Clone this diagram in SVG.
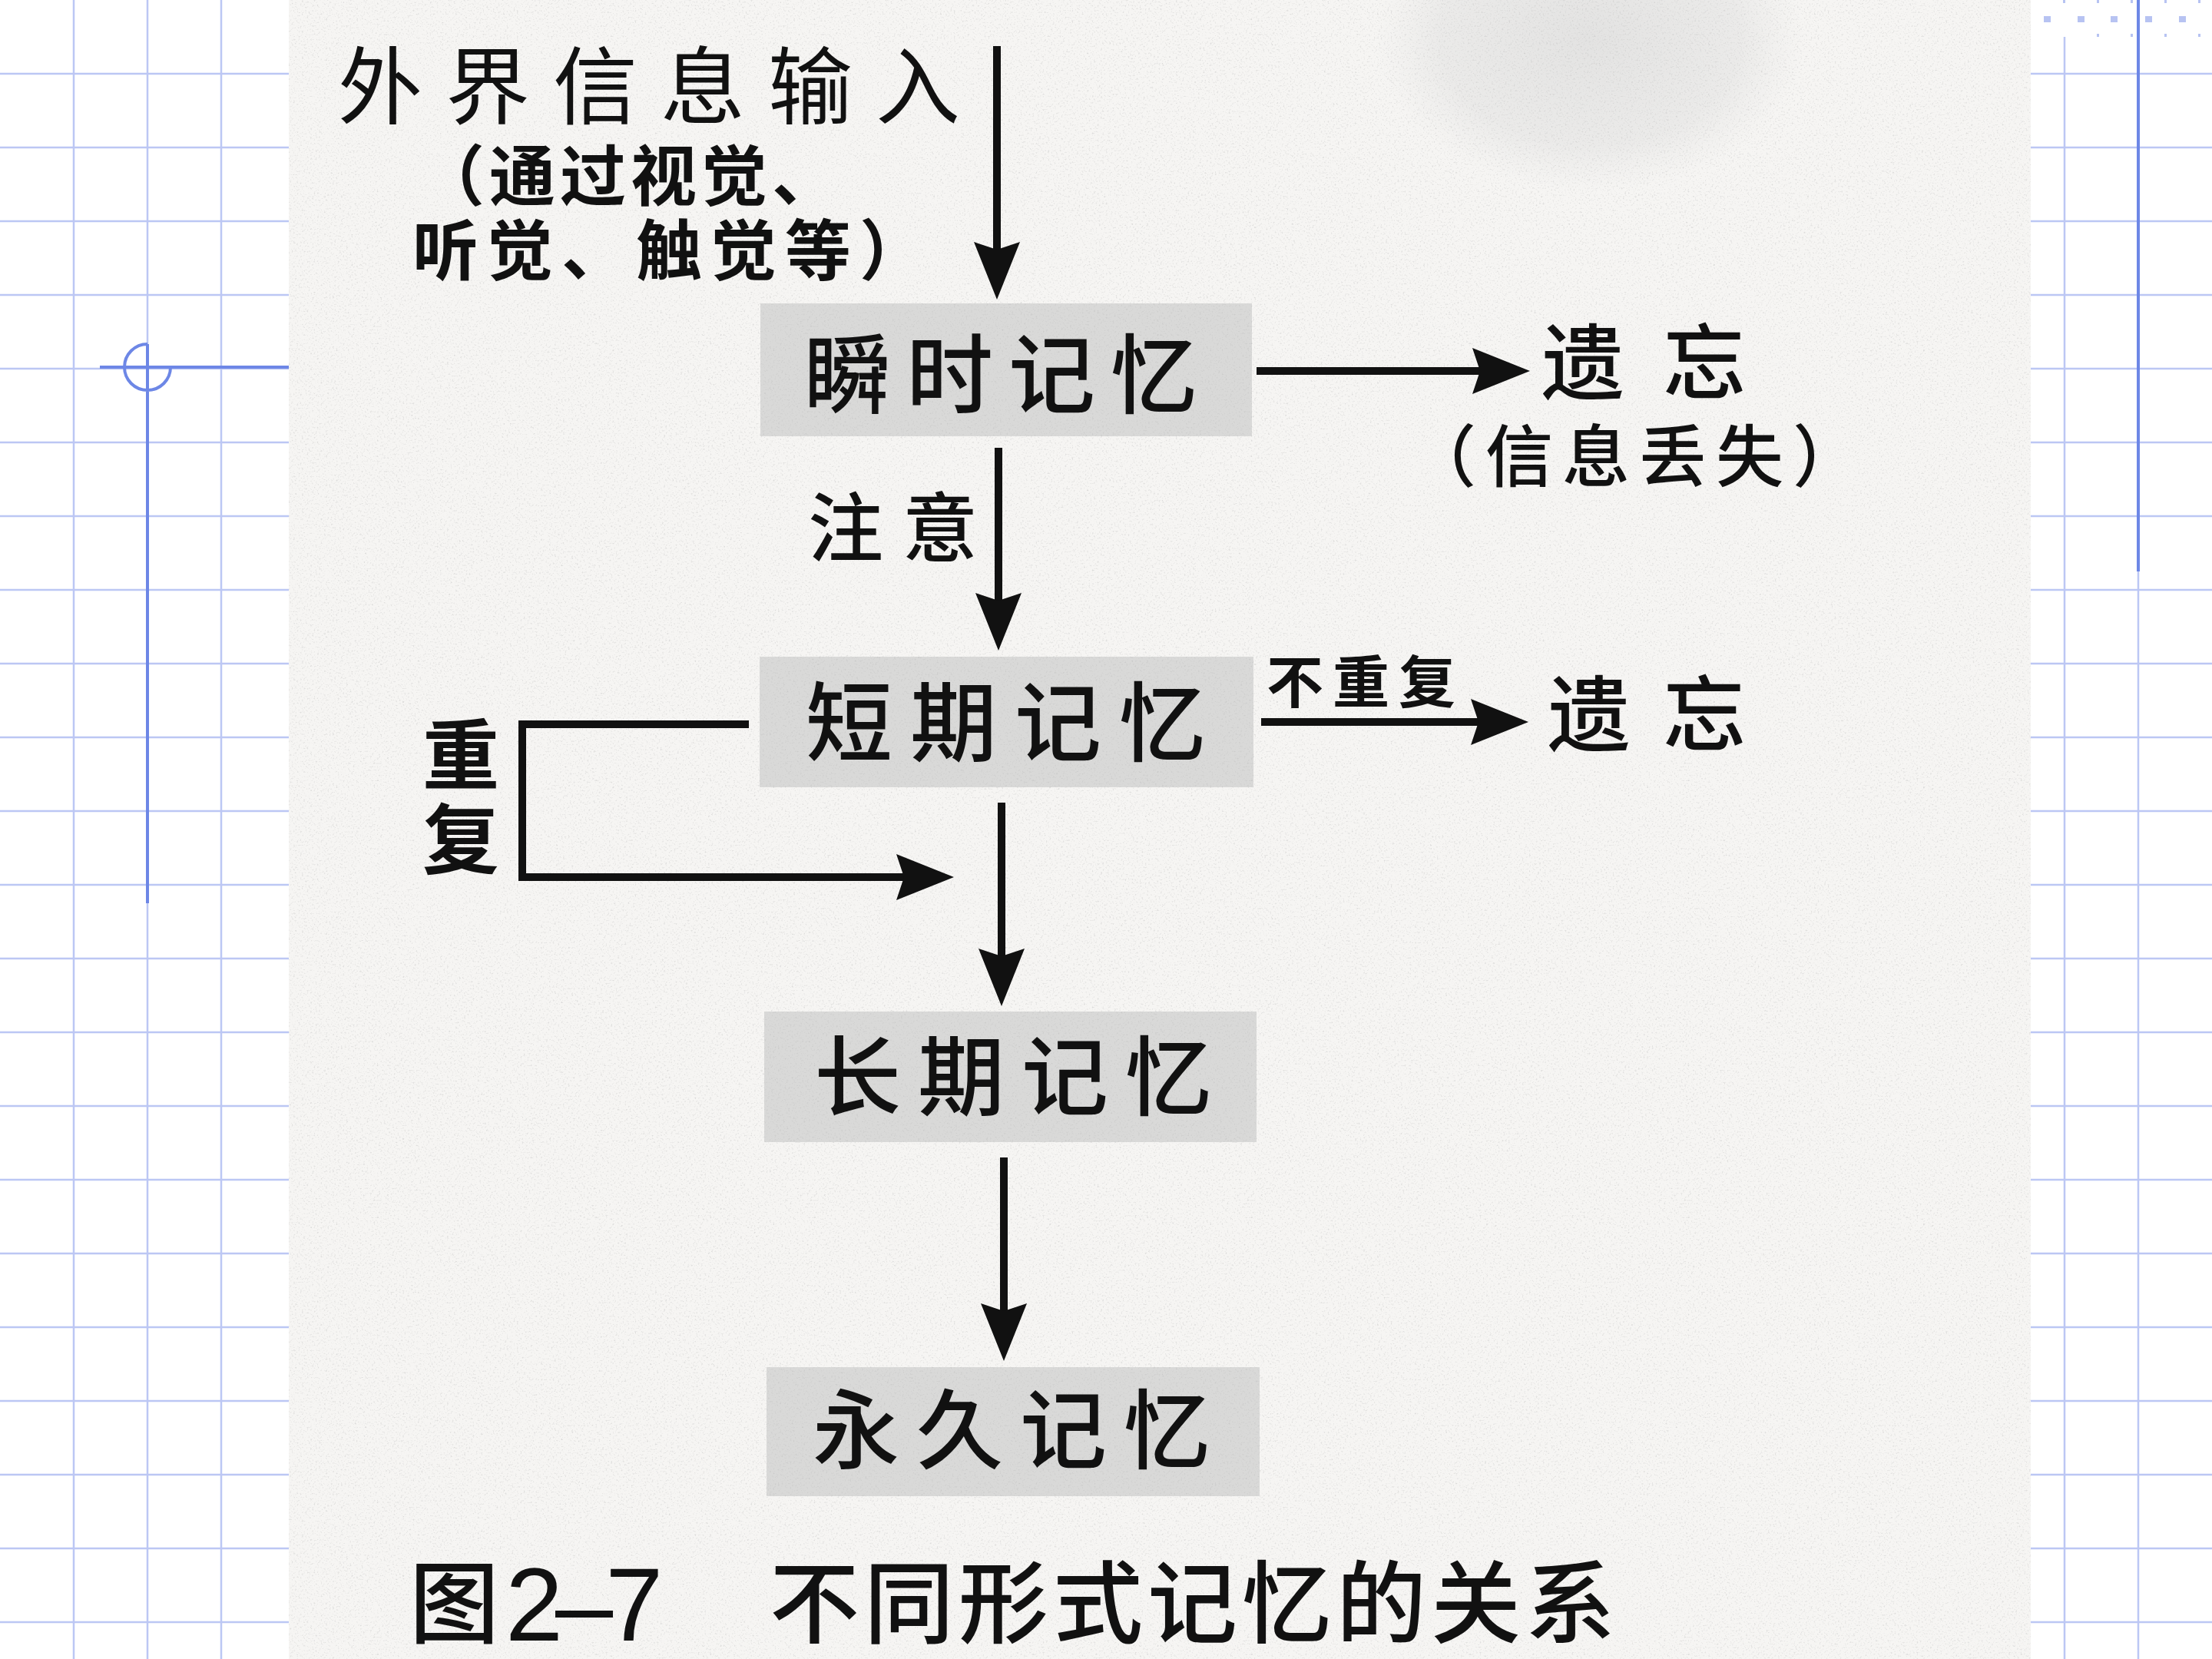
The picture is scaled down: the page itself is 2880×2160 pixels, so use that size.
<svg xmlns="http://www.w3.org/2000/svg" width="2880" height="2160" viewBox="0 0 2880 2160">
<defs>
<style>
.grid{stroke:#bcc7f4;stroke-width:2.5;fill:none}
.mark{stroke:#6d87e6;stroke-width:4;fill:none}
.box{fill:#d9d9d8}
.t{font-family:"Noto Sans CJK SC","Noto Sans CJK JP",sans-serif;fill:#111}
.lbl{font-size:113px;font-weight:500}
.b{font-weight:700}
.conn{stroke:#111;stroke-width:10;fill:none;stroke-linejoin:miter;marker-end:url(#ah)}
.dot{fill:#b7c3f2}
</style>
<marker id="ah" markerUnits="userSpaceOnUse" markerWidth="80" markerHeight="64" viewBox="0 0 80 64" refX="25" refY="32" orient="auto">
<path d="M0,2 L75,32 L0,62 L10,32 Z" fill="#111"/>
</marker>
<radialGradient id="blob" cx="0.5" cy="0.5" r="0.5">
<stop offset="0" stop-color="#d6d6d6" stop-opacity="0.6"/>
<stop offset="0.7" stop-color="#dadada" stop-opacity="0.4"/>
<stop offset="1" stop-color="#e0e0e0" stop-opacity="0"/>
</radialGradient>
<filter id="grain" x="0" y="0" width="1" height="1">
<feTurbulence type="fractalNoise" baseFrequency="0.45" numOctaves="2" seed="7" result="n"/>
<feColorMatrix in="n" type="matrix" values="0 0 0 0 0.45 0 0 0 0 0.45 0 0 0 0 0.45 3 0 0 0 -1.65"/>
</filter>
</defs>

<rect x="0" y="0" width="2880" height="2160" fill="#ffffff"/>

<g id="grid-left">
<path class="grid" d="M96 0V2160M192 0V2160M288 0V2160M0 96H376M0 192H376M0 288H376M0 384H376M0 480H376M0 576H376M0 672H376M0 768H376M0 864H376M0 960H376M0 1056H376M0 1152H376M0 1248H376M0 1344H376M0 1440H376M0 1536H376M0 1632H376M0 1728H376M0 1824H376M0 1920H376M0 2016H376M0 2112H376"/>
<path class="mark" d="M130 478H376M192 448V1176M192 448A30 30 0 1 0 222 478"/>
</g>
<g id="grid-right">
<path class="grid" d="M2688 48V2160M2784 0V2160M2644 96H2880M2644 192H2880M2644 288H2880M2644 384H2880M2644 480H2880M2644 576H2880M2644 672H2880M2644 768H2880M2644 864H2880M2644 960H2880M2644 1056H2880M2644 1152H2880M2644 1248H2880M2644 1344H2880M2644 1440H2880M2644 1536H2880M2644 1632H2880M2644 1728H2880M2644 1824H2880M2644 1920H2880M2644 2016H2880M2644 2112H2880"/>
<path class="mark" d="M2784 0V744"/>
<rect class="dot" x="2661" y="21" width="9" height="8"/>
<rect class="dot" x="2705" y="21" width="9" height="8"/>
<rect class="dot" x="2748" y="21" width="9" height="8"/>
<rect class="dot" x="2793" y="21" width="9" height="8"/>
<rect class="dot" x="2837" y="21" width="9" height="8"/>
<rect class="dot" x="2686" y="0" width="3" height="4"/>
<rect class="dot" x="2730" y="0" width="3" height="4"/>
<rect class="dot" x="2774" y="0" width="3" height="4"/>
<rect class="dot" x="2818" y="0" width="3" height="4"/>
<rect class="dot" x="2862" y="0" width="3" height="4"/>
<rect class="dot" x="2730" y="44" width="3" height="4"/>
<rect class="dot" x="2774" y="44" width="3" height="4"/>
<rect class="dot" x="2818" y="44" width="3" height="4"/>
<rect class="dot" x="2862" y="44" width="3" height="4"/>
</g>

<g id="scan">
<rect x="376" y="0" width="2268" height="2160" fill="#f6f5f3"/>
<ellipse cx="2070" cy="50" rx="280" ry="200" fill="url(#blob)"/>
</g>

<g id="node-sensory"><rect class="box" x="990" y="395" width="640" height="173"/></g>
<g id="node-short"><rect class="box" x="989" y="855" width="643" height="170"/></g>
<g id="node-long"><rect class="box" x="995" y="1317" width="641" height="170"/></g>
<g id="node-permanent"><rect class="box" x="998" y="1780" width="642" height="168"/></g>

<rect x="376" y="0" width="2268" height="2160" filter="url(#grain)" opacity="0.4"/>

<g id="connectors">
<path class="conn" d="M1298 60V340"/>
<path class="conn" d="M1636 483H1942"/>
<path class="conn" d="M1300 583V797"/>
<path class="conn" d="M1642 940H1940"/>
<path class="conn" d="M975 943H680V1142H1192"/>
<path class="conn" d="M1304 1045V1260"/>
<path class="conn" d="M1307 1507V1722"/>
</g>

<g id="input">
<text class="t"><tspan x="440" y="153" font-size="110" letter-spacing="30" font-weight="400">外界信息输入</tspan><tspan x="545" y="261" font-size="86" letter-spacing="6" font-weight="700">（通过视觉、</tspan><tspan x="537" y="358" font-size="86" letter-spacing="11" font-weight="700">听觉、触觉等）</tspan></text>
</g>
<g id="node-sensory-label"><text class="t lbl" x="1047" y="529" letter-spacing="20">瞬时记忆</text></g>
<g id="forget-1">
<text class="t" font-weight="500"><tspan x="2007" y="512" font-size="108" letter-spacing="50">遗忘</tspan><tspan x="1834" y="626" font-size="88" letter-spacing="12">（信息丢失）</tspan></text>
</g>
<g id="label-attention"><text class="t" x="1052" y="723" font-size="98" letter-spacing="25" font-weight="500">注意</text></g>
<g id="node-short-label"><text class="t lbl" x="1049" y="982" letter-spacing="23">短期记忆</text></g>
<g id="label-norepeat"><text class="t b" x="1649" y="915" font-size="74" letter-spacing="12">不重复</text></g>
<g id="forget-2"><text class="t" x="2015" y="970" font-size="108" letter-spacing="42" font-weight="500">遗忘</text></g>
<g id="label-repeat">
<text class="t b" x="600" y="932" font-size="100" letter-spacing="10" writing-mode="tb">重复</text>
</g>
<g id="node-long-label"><text class="t lbl" x="1060" y="1443" font-size="112" letter-spacing="22">长期记忆</text></g>
<g id="node-permanent-label"><text class="t lbl" x="1058" y="1903" font-size="112" letter-spacing="22">永久记忆</text></g>

<g id="caption">
<text class="t" x="533" y="2130" font-size="117" font-weight="500">图</text>
<text x="658" y="2136" font-family="'Liberation Sans',Arial,sans-serif" font-size="135" letter-spacing="-10" fill="#111">2–7</text>
<text class="t" x="1002" y="2130" font-size="117" letter-spacing="6" font-weight="500">不同形式记忆的关系</text>
</g>
</svg>
